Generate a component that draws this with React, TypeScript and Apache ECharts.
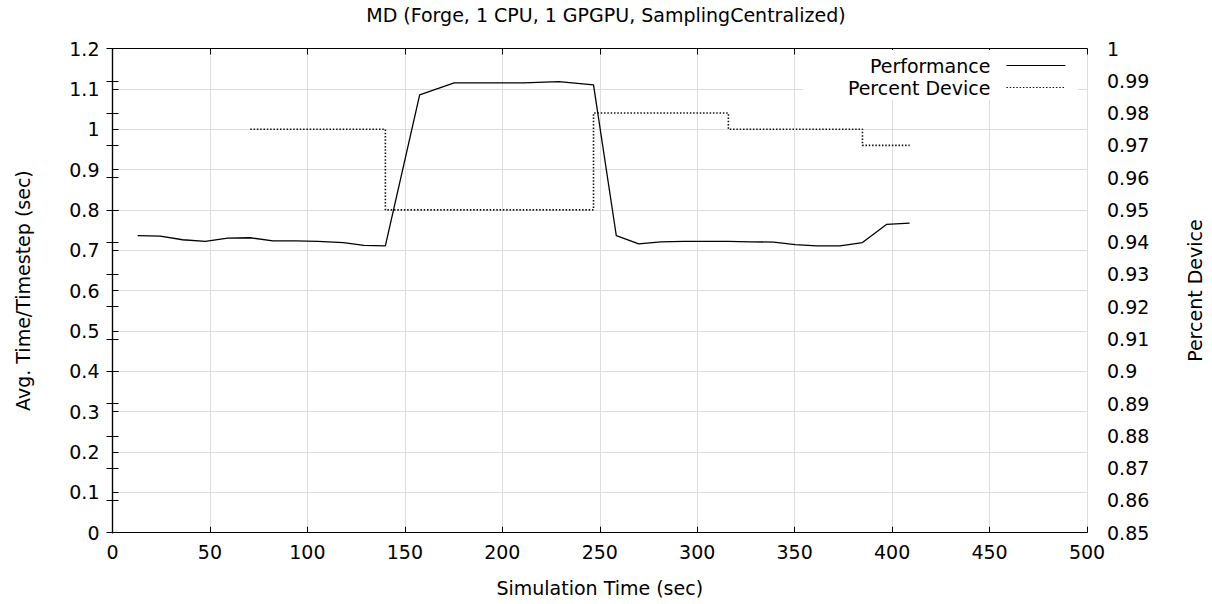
import React, { useEffect, useRef } from "react";
import * as echarts from "echarts";

const titleText = "MD (Forge, 1 CPU, 1 GPGPU, SamplingCentralized)";
const xName = "Simulation Time (sec)";
const yLeftName = "Avg. Time/Timestep (sec)";
const yRightName = "Percent Device";

const perfX = [12.9, 24.5, 36, 47.6, 59.1, 70.7, 82.3, 93.8, 105.4, 118.5, 129, 140, 157.6, 175.3, 193, 211, 229, 246.8, 258.5, 270, 281.3, 293, 304.5, 316, 327.5, 339.2, 350.3, 361.3, 373.3, 384.8, 397.1, 409];
const perfY = [0.736, 0.735, 0.726, 0.722, 0.73, 0.731, 0.723, 0.723, 0.722, 0.719, 0.712, 0.711, 1.085, 1.115, 1.115, 1.115, 1.118, 1.11, 0.736, 0.716, 0.721, 0.722, 0.722, 0.722, 0.721, 0.72, 0.714, 0.711, 0.711, 0.719, 0.764, 0.767];

const devX = [70.7, 82.3, 93.8, 105.4, 118.5, 129, 140, 157.6, 175.3, 193, 211, 229, 246.8, 258.5, 270, 281.3, 293, 304.5, 316, 327.5, 339.2, 350.3, 361.3, 373.3, 384.8, 397.1, 409];
const devY = [0.975, 0.975, 0.975, 0.975, 0.975, 0.975, 0.95, 0.95, 0.95, 0.95, 0.95, 0.95, 0.98, 0.98, 0.98, 0.98, 0.98, 0.98, 0.975, 0.975, 0.975, 0.975, 0.975, 0.975, 0.97, 0.97, 0.97];

const FONT = "DejaVu Sans";

export default function App() {
  const ref = useRef<HTMLDivElement>(null);
  useEffect(() => {
    if (!ref.current) return;
    const chart = echarts.init(ref.current, null, { renderer: "svg" });
    const fmt2 = (v: number) => String(+v.toFixed(2));
    const axisLineStyle = { color: "#000", width: 1.2 };
    const gridLine = { show: true, lineStyle: { color: "#dedede", width: 1 } };
    chart.setOption({
      animation: false,
      backgroundColor: "#fff",
      textStyle: { fontFamily: FONT },
      title: {
        text: titleText,
        left: "center",
        top: 0,
        textStyle: { fontFamily: FONT, fontSize: 19, fontWeight: "normal", color: "#000" },
      },
      grid: { left: 112.5, right: 120.5, top: 48.5, bottom: 71.3, containLabel: false },
      legend: {
        orient: "vertical",
        align: "right",
        right: 141,
        top: 51,
        itemWidth: 59,
        itemHeight: 14,
        itemGap: 3,
        itemStyle: { opacity: 0 },
        lineStyle: { width: 1.2 },
        textStyle: { fontFamily: FONT, fontSize: 19, color: "#000", padding: [0, 11, 0, 0] },
        data: ["Performance", "Percent Device"],
      },
      graphic: [
        {
          type: "rect",
          z: 1,
          shape: { x: 803, y: 50, width: 275, height: 50 },
          style: { fill: "#fff" },
          silent: true,
        },
      ],
      xAxis: [
        {
          type: "value",
          min: 0,
          max: 500,
          interval: 50,
          position: "bottom",
          name: xName,
          nameLocation: "middle",
          nameGap: 46,
          nameTextStyle: { fontFamily: FONT, fontSize: 19, color: "#000" },
          axisLine: { show: true, lineStyle: axisLineStyle },
          axisTick: { show: true, inside: true, length: 6, lineStyle: { color: "#000" } },
          axisLabel: { fontFamily: FONT, fontSize: 19, color: "#000", margin: 10 },
          splitLine: gridLine,
        },
        {
          type: "value",
          min: 0,
          max: 500,
          interval: 50,
          position: "top",
          axisLine: { show: true, lineStyle: axisLineStyle },
          axisTick: { show: true, inside: true, length: 6, lineStyle: { color: "#000" } },
          axisLabel: { show: false },
          splitLine: { show: false },
        },
      ],
      yAxis: [
        {
          type: "value",
          min: 0,
          max: 1.2,
          interval: 0.1,
          position: "left",
          name: yLeftName,
          nameLocation: "middle",
          nameRotate: 90,
          nameGap: 80,
          nameTextStyle: { fontFamily: FONT, fontSize: 19, color: "#000" },
          axisLine: { show: true, lineStyle: axisLineStyle },
          axisTick: { show: true, inside: true, length: 6, lineStyle: { color: "#000" } },
          axisLabel: { fontFamily: FONT, fontSize: 19, color: "#000", margin: 13, formatter: fmt2 },
          splitLine: gridLine,
        },
        {
          type: "value",
          min: 0.85,
          max: 1,
          interval: 0.01,
          position: "right",
          name: yRightName,
          nameLocation: "middle",
          nameRotate: 90,
          nameGap: 98,
          nameTextStyle: { fontFamily: FONT, fontSize: 19, color: "#000" },
          axisLine: { show: true, lineStyle: axisLineStyle },
          axisTick: { show: true, inside: true, length: 6, lineStyle: { color: "#000" } },
          axisLabel: { fontFamily: FONT, fontSize: 19, color: "#000", margin: 20, formatter: fmt2 },
          splitLine: { show: false },
        },
        {
          type: "value",
          min: 0.85,
          max: 1,
          interval: 0.01,
          position: "left",
          offset: 0,
          axisLine: { show: false },
          axisTick: { show: true, inside: true, length: 6, lineStyle: { color: "#000" } },
          axisLabel: { show: false },
          splitLine: { show: false },
        },
      ],
      series: [
        {
          name: "Performance",
          type: "line",
          xAxisIndex: 0,
          yAxisIndex: 0,
          data: perfX.map((x, i) => [x, perfY[i]]),
          symbol: "none",
          z: 3,
          lineStyle: { color: "#000", width: 1.3, type: "solid" },
          itemStyle: { color: "#000" },
        },
        {
          name: "Percent Device",
          type: "line",
          xAxisIndex: 0,
          yAxisIndex: 1,
          step: "end",
          data: devX.map((x, i) => [x, devY[i]]),
          symbol: "none",
          z: 3,
          lineStyle: { color: "#111", width: 1.6, type: [1.5, 1.8] },
          itemStyle: { color: "#111" },
        },
      ],
    });
    return () => chart.dispose();
  }, []);
  return (
    <div
      ref={ref}
      style={{ position: "fixed", left: 0, top: 0, width: 1212, height: 604, background: "#fff" }}
    />
  );
}
